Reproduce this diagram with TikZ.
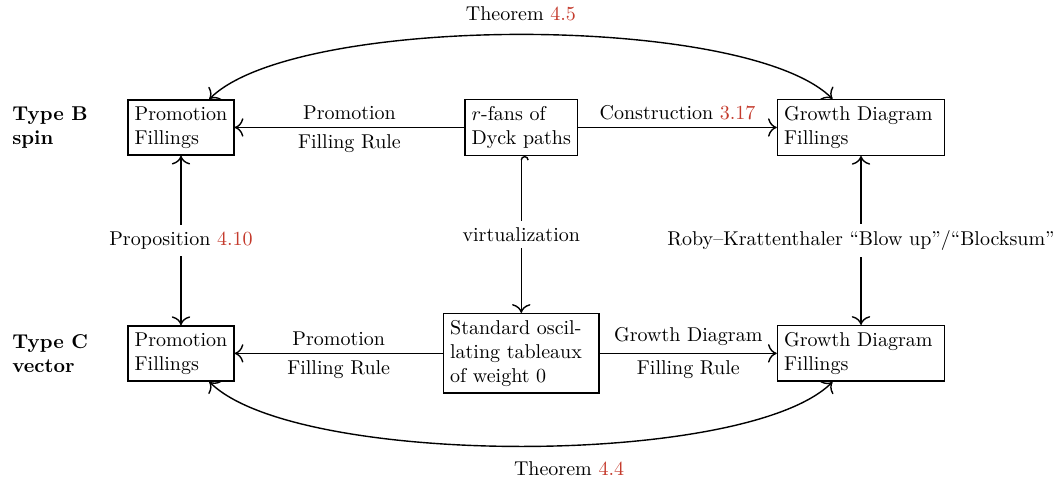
\documentclass[tikz,border=0pt]{standalone}
\usepackage{xcolor}
\usepackage{tikz}
\usetikzlibrary{arrows.meta,positioning}
\definecolor{refRed}{RGB}{196,58,44}
\newcommand{\refnum}[1]{\textcolor{refRed}{#1}}

\begin{document}
\begin{tikzpicture}[
    >={To[scale=1.4]},
    fillbox/.style={draw, line width=0.7pt, align=left},
    typelbl/.style={anchor=west, align=left, font=\bfseries},
    edge/.style={draw, line width=0.7pt, ->},
    tag/.style={fill=white}
]
\useasboundingbox (0,0) rectangle (18.627,-8.488);

\node[typelbl] (tB) at (0.093,-2.24) {Type B\\spin};
\node[typelbl] (tC) at (0.093,-6.21) {Type C\\vector};

\node[fillbox] (pfB) at (3.18,-2.24) {Promotion\\Fillings};
\node[fillbox] (rfB) at (9.16,-2.24) {$r$-fans of\\Dyck paths};
\node[fillbox, text width=2.7cm] (gdB) at (15.13,-2.24) {Growth Diagram\\Fillings};

\node[fillbox] (pfC) at (3.18,-6.21) {Promotion\\Fillings};
\node[fillbox, text width=2.5cm] (soC) at (9.16,-6.21) {Standard oscillating tableaux of weight 0};
\node[fillbox, text width=2.7cm] (gdC) at (15.13,-6.21) {Growth Diagram\\Fillings};

% horizontal maps
\draw[edge] (rfB) -- node[above]{Promotion} node[below]{Filling Rule} (pfB);
\draw[edge] (rfB) -- node[above]{Construction \refnum{3.17}} (gdB);
\draw[edge] (soC) -- node[above]{Promotion} node[below]{Filling Rule} (pfC);
\draw[edge] (soC) -- node[above]{Growth Diagram} node[below]{Filling Rule} (gdC);

% vertical maps
\draw[edge, <->] (pfB) -- node[tag]{Proposition \refnum{4.10}} (pfC);
\draw[edge, {Hooks[right,scale=1.3]}->] (rfB) -- node[tag]{virtualization} (soC);
\draw[edge, <->] (gdB) -- node[tag]{Roby--Krattenthaler ``Blow up''/``Blocksum''} (gdC);

% theorems
\draw[edge, <->] (pfB.45) to[out=45, in=135, looseness=0.5] node[above=3pt]{Theorem \refnum{4.5}} (gdB.135);
\draw[edge, <->] (pfC.-45) to[out=-45, in=-135, looseness=0.5] node[pos=0.56, below=4.5pt]{Theorem \refnum{4.4}} (gdC.-135);
\end{tikzpicture}
\end{document}
